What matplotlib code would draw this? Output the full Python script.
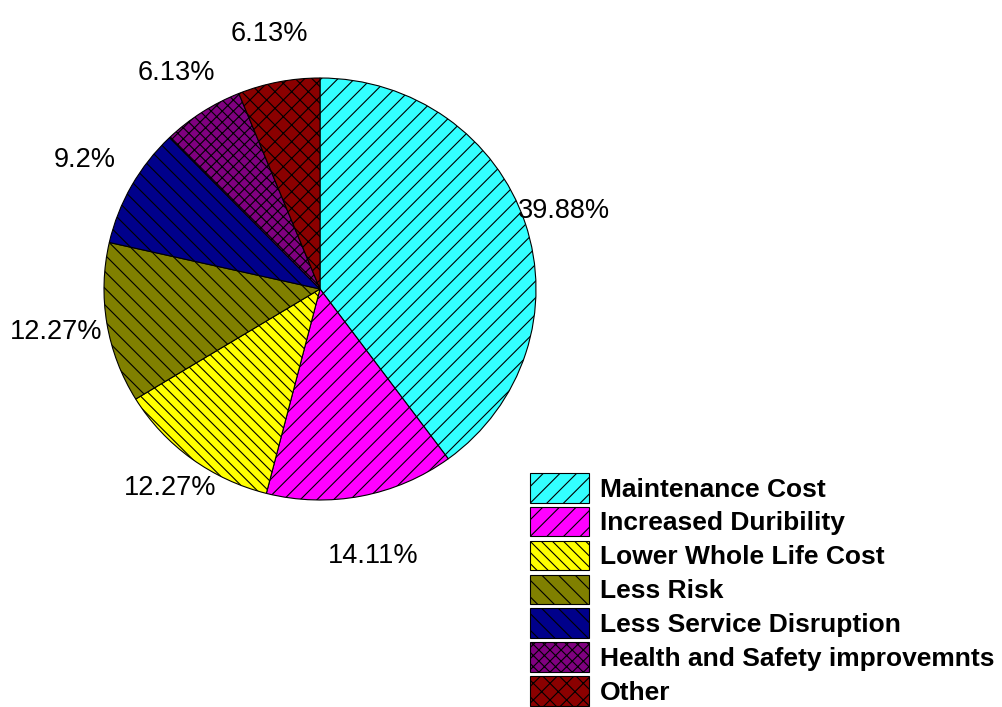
import numpy as np
import matplotlib
matplotlib.use("Agg")
import matplotlib.pyplot as plt

categories = [
    "Maintenance Cost",
    "Increased Duribility",
    "Lower Whole Life Cost",
    "Less Risk",
    "Less Service Disruption",
    "Health and Safety improvemnts",
    "Other",
]
shares = [39.88, 14.11, 12.27, 12.27, 9.2, 6.13, 6.13]
share_labels = ["39.88%", "14.11%", "12.27%", "12.27%", "9.2%", "6.13%", "6.13%"]
colors = ["#33ffff", "#ff00ff", "#ffff00", "#808000", "#00008b", "#800080", "#8b0000"]
hatches = ["//", "//", "\\\\\\", "\\\\", "\\\\", "xxx", "xx"]
# how far out each percentage sits, in radii
label_dist = [1.19, 1.29, 1.17, 1.24, 1.25, 1.22, 1.23]

plt.rcParams["font.family"] = ["Liberation Sans", "DejaVu Sans"]
plt.rcParams["hatch.linewidth"] = 0.8

fig = plt.figure(figsize=(10.02, 7.07), dpi=100)
# pie centre at ~(320, 289) px, radius ~216 px wide, ~211 px tall
lim = 1.35
cx, cy, rx, ry = 320, 707 - 289, 216, 211
ax = fig.add_axes([(cx - lim * rx) / 1002, (cy - lim * ry) / 707,
                   2 * lim * rx / 1002, 2 * lim * ry / 707])

wedges, _ = ax.pie(
    shares,
    colors=colors,
    startangle=90,
    counterclock=False,
    wedgeprops=dict(edgecolor="black", linewidth=0.8),
)
for w, h in zip(wedges, hatches):
    w.set_hatch(h)

for w, lab, d in zip(wedges, share_labels, label_dist):
    ang = np.deg2rad((w.theta1 + w.theta2) / 2)
    ax.text(d * np.cos(ang), d * np.sin(ang), lab, ha="center", va="center", fontsize=19.5)

ax.set_xlim(-lim, lim)
ax.set_ylim(-lim, lim)
ax.set_aspect("auto")
ax.axis("off")

fig.legend(
    wedges, categories,
    loc="upper left", bbox_to_anchor=(530 / 1002, 1 - 473 / 707),
    frameon=False, prop=dict(size=19, weight="bold"),
    handlelength=2.25, handleheight=1.35, handletextpad=0.4,
    labelspacing=0.16, borderpad=0, borderaxespad=0,
)

fig.savefig("out.png", dpi=100)
